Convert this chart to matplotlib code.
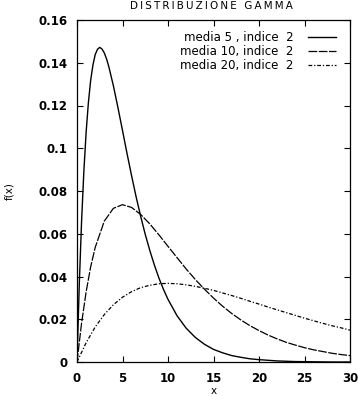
import matplotlib.pyplot as plt

# --- data (gamma densities, indice 2) ---
x_m5 = [0, 0.25, 0.5, 0.75, 1, 1.25, 1.5, 1.75, 2, 2.25, 2.5, 2.75, 3, 3.25,
        3.5, 4, 4.5, 5, 5.5, 6, 6.5, 7, 7.5, 8, 8.5, 9, 9.5, 10, 11, 12, 13,
        14, 15, 16, 17, 18, 19, 20, 22, 24, 26, 28, 30]
y_m5 = [0.0, 0.0362, 0.0655, 0.0889, 0.1073, 0.1213, 0.1317, 0.1389, 0.1438,
        0.1463, 0.1472, 0.1464, 0.1446, 0.1418, 0.1381, 0.1292, 0.1190, 0.1083,
        0.0975, 0.0871, 0.0772, 0.0681, 0.0597, 0.0522, 0.0454, 0.0393, 0.0340,
        0.0293, 0.0216, 0.0158, 0.0115, 0.0083, 0.0059, 0.0043, 0.0030, 0.0022,
        0.0015, 0.0011, 0.0005, 0.0002, 0.0001, 0.0, 0.0]

x_m10 = [0, 0.5, 1, 1.5, 2, 3, 4, 5, 6, 7, 8, 9, 10, 11, 12, 13, 14, 15, 16, 17,
         18, 19, 20, 21, 22, 23, 24, 25, 26, 27, 28, 29, 30]
y_m10 = [0.0, 0.0181, 0.0327, 0.0445, 0.0536, 0.0659, 0.0719, 0.0736, 0.0723,
         0.0690, 0.0646, 0.0595, 0.0541, 0.0488, 0.0435, 0.0386, 0.0341, 0.0299,
         0.0261, 0.0227, 0.0197, 0.0170, 0.0147, 0.0126, 0.0108, 0.0092, 0.0079,
         0.0067, 0.0057, 0.0049, 0.0041, 0.0035, 0.0030]

x_m20 = [0, 1, 2, 3, 4, 5, 6, 7, 8, 9, 10, 11, 12, 13, 14, 15, 16, 17, 18, 19,
         20, 21, 22, 23, 24, 25, 26, 27, 28, 29, 30]
y_m20 = [0.0, 0.0090, 0.0164, 0.0222, 0.0268, 0.0303, 0.0329, 0.0348, 0.0359,
         0.0366, 0.0368, 0.0366, 0.0361, 0.0354, 0.0345, 0.0335, 0.0323, 0.0311,
         0.0298, 0.0284, 0.0271, 0.0257, 0.0244, 0.0231, 0.0218, 0.0205, 0.0193,
         0.0181, 0.0170, 0.0160, 0.0149]

labels = ['media 5 , indice  2', 'media 10, indice  2', 'media 20, indice  2']
x_ticks = [0, 5, 10, 15, 20, 25, 30]
y_ticks = [0, 0.02, 0.04, 0.06, 0.08, 0.1, 0.12, 0.14, 0.16]
y_ticklabels = ['0', '0.02', '0.04', '0.06', '0.08', '0.1', '0.12', '0.14', '0.16']
title = 'DISTRIBUZIONE GAMMA'

plt.rcParams['font.family'] = ['DejaVu Sans']

fig = plt.figure(figsize=(3.58, 3.96), dpi=100)
ax = fig.add_axes([77 / 358, 1 - 362 / 396, 273 / 358, 342 / 396])

ax.plot(x_m5, y_m5, color='black', lw=1.0, label=labels[0])
ax.plot(x_m10, y_m10, color='black', lw=0.9, dashes=(7, 1.2), label=labels[1])
ax.plot(x_m20, y_m20, color='black', lw=0.9, dashes=(3, 1.5, 1, 1.5), label=labels[2])

ax.set_xlim(0, 30)
ax.set_ylim(0, 0.16)
ax.set_xticks(x_ticks)
ax.set_yticks(y_ticks)
ax.set_yticklabels(y_ticklabels)
ax.tick_params(direction='in', top=True, right=True, length=4, width=0.8,
               labelsize=8.5, pad=7)
for lab in ax.get_xticklabels() + ax.get_yticklabels():
    lab.set_fontweight('bold')
for s in ax.spines.values():
    s.set_linewidth(0.9)

# axis labels placed where the reference has them
ax.set_xlabel('x', fontsize=7.5, va='center')
ax.xaxis.set_label_coords(0.5, -(391 - 362) / 342)
ax.set_ylabel('f(x)', fontsize=7.5, va='center')
ax.yaxis.set_label_coords(-(77 - 9) / 273, 0.5)

spaced = '\u2009'.join(title)
fig.text(211 / 358, 1 - 6 / 396, spaced, ha='center', va='center', fontsize=7.5)

ax.legend(loc='upper right', frameon=False, markerfirst=False, fontsize=8.5,
          handlelength=2.4, handletextpad=1.2, labelspacing=0.08,
          borderaxespad=0.55, bbox_to_anchor=(0.99, 1.0))

fig.savefig('out.png', dpi=100)
